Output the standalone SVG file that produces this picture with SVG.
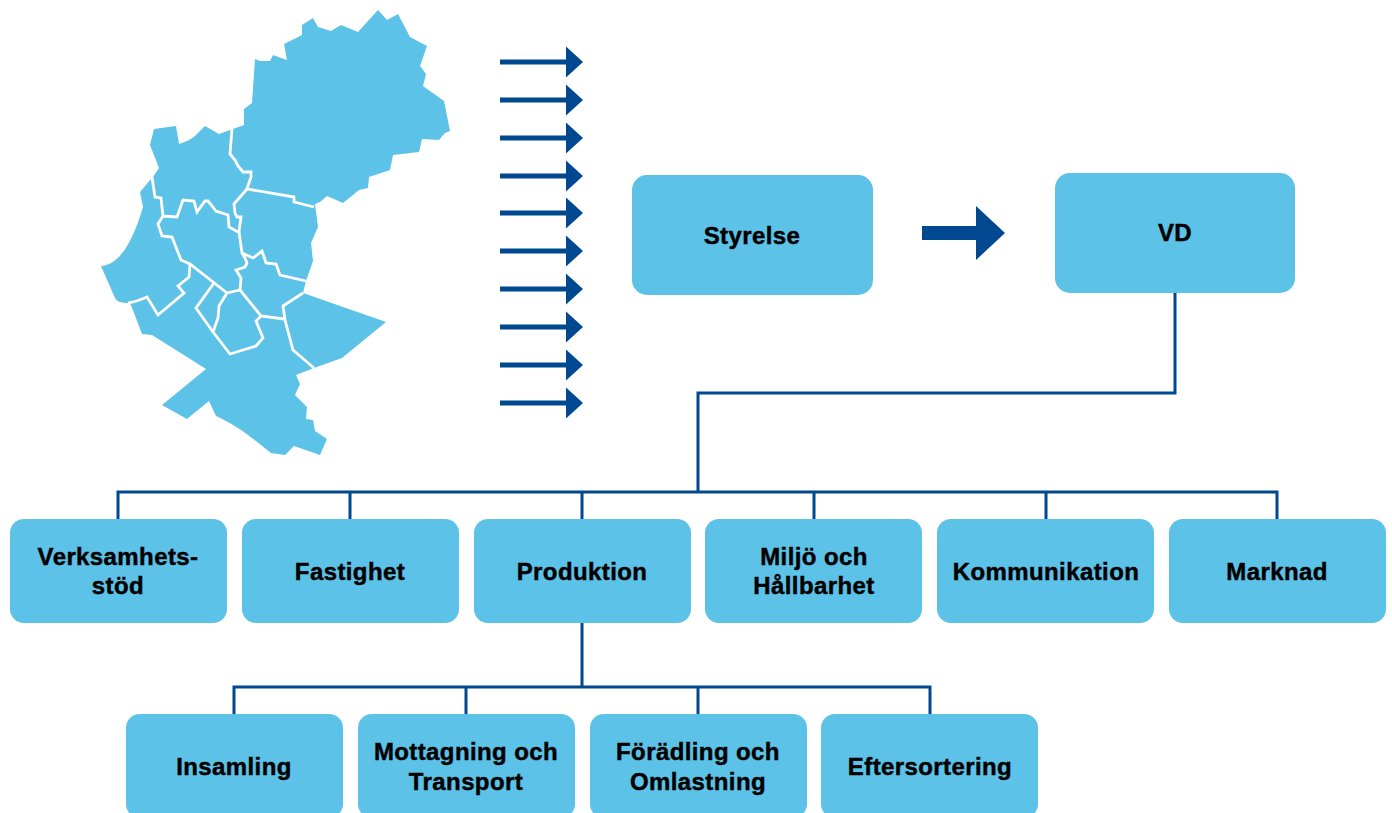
<svg xmlns="http://www.w3.org/2000/svg" width="1392" height="813" viewBox="0 0 1392 813">
<style>
.n{fill:#5dc2e7}
.t{font-family:"Liberation Sans",Arial,sans-serif;font-weight:700;font-size:24px;fill:#000;stroke:#000;stroke-width:.45px;text-anchor:middle;letter-spacing:.4px}
.c{fill:none;stroke:#004990;stroke-width:3}
.b{fill:none;stroke:#fff;stroke-width:2.8;stroke-linejoin:miter}
.a{fill:#004990}
</style>
<defs>
<path id="ar" class="a" d="M0-2.5H66V-15.5L83 0 66 15.5V2.5H0Z"/>
</defs>
<rect width="1392" height="813" fill="#fff"/>
<g id="map">
<path class="n" d="M233 129L244 125 244 109 252 103 255 59 260 61 270 61 273 55 287 60 284 44 302 35 302 25 313 18 318 27 331 31 341 25 358 32 378 10 387 20 398 14 410 37 427 46 420 66 426 74 423 86 444 101 450 131 445 133 439 140 422 139 419 152 393 155 390 170 369 177 368 188 359 190 343 203 327 196 320 202 315 204 318 227 311 243 313 261 306 281 303 293 386 322 342 358 314 368 296 375 300 384 295 395 307 407 306 419 313 420 315 431 327 439 320 455 294 446 285 455 271 453C258 442 235 424 216 416L209 401 187 419 162 405 206 369 152 335 142 334 131 305 128 303C122 303 117 302 115 298L101 266C118 265 132 245 143 207L140 192 151 179 153 177 159 168 150 145 154 129 176 126 179 144C186 142 192 139 197 134L205 126 219 134Z"/>
<path class="b" d="M232 129L230 154 235 160 238 166 243 172 251 172 251 177 247 189 294 197 294 202 314 207"/>
<path class="b" d="M247 189L234 204 235 213 237 217 241 217 239 232 242 253 245 258 247 263 245 267 236 270 241 278 240 290 261 316 284 319"/>
<path class="b" d="M242 253L253 258 262 251 266 263 276 264 280 275 306 281"/>
<path class="b" d="M303 293L283 306 285 320 293 350 314 368"/>
<path class="b" d="M261 316L256 321 263 338 256 346 230 354 213 332 196 308 214 283"/>
<path class="b" d="M240 290L227 293 219 306 218 318 213 332"/>
<path class="b" d="M227 293L190 264 181 260 172 237 162 236 158 224 163 216 177 217 183 200 194 201 197 212 205 201 208 201 216 211 228 215 229 227 238 232"/>
<path class="b" d="M152 177L155 197 161 198 163 216"/>
<path class="b" d="M190 264L189 277 178 286 184 293 158 315 147 297C140 300 135 302 128 303"/>
</g>
<g id="arrows">
<use href="#ar" x="500" y="62"/><use href="#ar" x="500" y="100"/><use href="#ar" x="500" y="138"/><use href="#ar" x="500" y="176"/><use href="#ar" x="500" y="213"/><use href="#ar" x="500" y="251"/><use href="#ar" x="500" y="289"/><use href="#ar" x="500" y="327"/><use href="#ar" x="500" y="365"/><use href="#ar" x="500" y="403"/>
</g>
<g id="connectors">
<path class="a" d="M922 226H976V206L1005 233 976 260V240H922Z"/>
<path class="c" d="M1175 292V393H698V492M118 519V492H1277V519M350 492V519M582 492V519M814 492V519M1046 492V519M582 622V687M234 714V687H930V714M466 687V714M698 687V714"/>
</g>
<g id="styrelse"><rect class="n" x="632" y="175" width="241" height="120" rx="15"/><text class="t" x="752" y="244">Styrelse</text></g>
<g id="vd"><rect class="n" x="1055" y="173" width="240" height="120" rx="15"/><text class="t" x="1175" y="241">VD</text></g>
<g id="verksamhet"><rect class="n" x="10" y="519" width="217" height="104" rx="14"/><text class="t" x="118" y="565">Verksamhets-</text><text class="t" x="118" y="594">stöd</text></g>
<g id="fastighet"><rect class="n" x="242" y="519" width="217" height="104" rx="14"/><text class="t" x="350" y="580">Fastighet</text></g>
<g id="produktion"><rect class="n" x="474" y="519" width="217" height="104" rx="14"/><text class="t" x="582" y="580">Produktion</text></g>
<g id="miljo"><rect class="n" x="705" y="519" width="217" height="104" rx="14"/><text class="t" x="814" y="565">Miljö och</text><text class="t" x="814" y="594">Hållbarhet</text></g>
<g id="kommunikation"><rect class="n" x="937" y="519" width="217" height="104" rx="14"/><text class="t" x="1046" y="580">Kommunikation</text></g>
<g id="marknad"><rect class="n" x="1169" y="519" width="217" height="104" rx="14"/><text class="t" x="1277" y="580">Marknad</text></g>
<g id="insamling"><rect class="n" x="126" y="714" width="217" height="104" rx="14"/><text class="t" x="234" y="775">Insamling</text></g>
<g id="mottagning"><rect class="n" x="358" y="714" width="217" height="104" rx="14"/><text class="t" x="466" y="760">Mottagning och</text><text class="t" x="466" y="790">Transport</text></g>
<g id="foradling"><rect class="n" x="590" y="714" width="217" height="104" rx="14"/><text class="t" x="698" y="760">Förädling och</text><text class="t" x="698" y="790">Omlastning</text></g>
<g id="eftersortering"><rect class="n" x="821" y="714" width="217" height="104" rx="14"/><text class="t" x="930" y="775">Eftersortering</text></g>
</svg>
